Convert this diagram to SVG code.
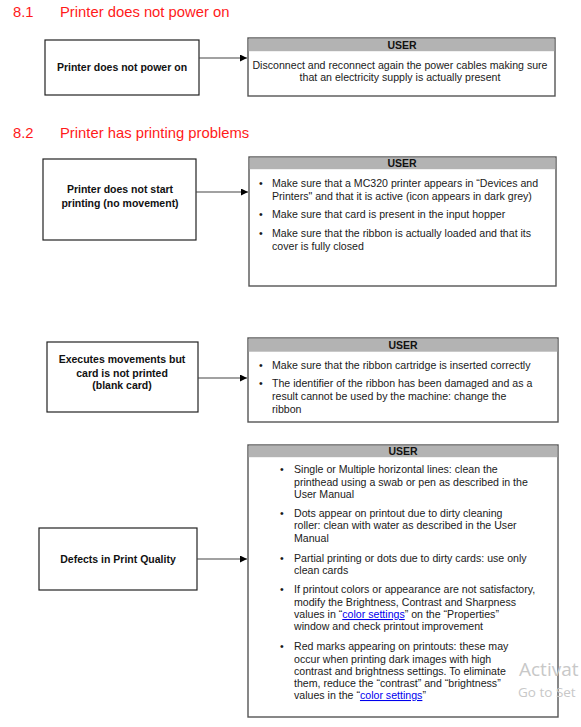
<svg xmlns="http://www.w3.org/2000/svg" width="581" height="727" viewBox="0 0 581 727">
<defs>
<marker id="ah" markerWidth="8" markerHeight="8" refX="7" refY="3.5" orient="auto" markerUnits="userSpaceOnUse">
<path d="M0,0 L7,3.5 L0,7 Z" fill="#000"/>
</marker>
<style>
.h{font-family:"Liberation Sans",Arial,sans-serif;font-size:14.8px;fill:#ff1a1a}
.n{fill:#fff;stroke:#222;stroke-width:1.2}
.u{fill:#fff;stroke:#555;stroke-width:1.4}
.band{fill:#b3b3b3}
.b{font-family:"Liberation Sans",Arial,sans-serif;font-size:10.5px;font-weight:bold;fill:#111;text-anchor:middle}
.t{font-family:"Liberation Sans",Arial,sans-serif;font-size:10.6px;fill:#1a1a1a}
.c{text-anchor:middle}
.lk{fill:#0000ee;text-decoration:underline}
.con{stroke:#444;stroke-width:1.2;fill:none}
.wm{font-family:"Segoe UI","Open Sans",sans-serif;fill:#c8c8c8}
</style>
</defs>
<rect width="581" height="727" fill="#fff"/>

<text class="h" x="13" y="17">8.1</text>
<text class="h" x="60" y="17">Printer does not power on</text>
<text class="h" x="13" y="138">8.2</text>
<text class="h" x="60" y="138">Printer has printing problems</text>

<g id="n1">
<rect class="n" x="45" y="40" width="154" height="55"/>
<text class="b" x="122" y="71">Printer does not power on</text>
</g>
<g id="u1">
<rect class="u" x="248" y="38" width="307" height="58"/>
<rect class="band" x="248.7" y="38.7" width="305.6" height="12.5"/>
<text class="b" x="402" y="49">USER</text>
<text class="t c" x="400" y="69">Disconnect and reconnect again the power cables making sure</text>
<text class="t c" x="400" y="81">that an electricity supply is actually present</text>
</g>

<g id="n2">
<rect class="n" x="43" y="159" width="153" height="81"/>
<text class="b" x="120" y="193">Printer does not start</text>
<text class="b" x="120" y="207">printing (no movement)</text>
</g>
<g id="u2">
<rect class="u" x="249" y="157" width="307" height="129"/>
<rect class="band" x="249.7" y="157.7" width="305.6" height="11.5"/>
<text class="b" x="402" y="167">USER</text>
<text class="t" x="259" y="187">•</text>
<text class="t" x="272" y="187">Make sure that a MC320 printer appears in “Devices and</text>
<text class="t" x="272" y="200">Printers" and that it is active (icon appears in dark grey)</text>
<text class="t" x="259" y="218">•</text>
<text class="t" x="272" y="218">Make sure that card is present in the input  hopper</text>
<text class="t" x="259" y="237">•</text>
<text class="t" x="272" y="237">Make sure that the ribbon is actually loaded and that its</text>
<text class="t" x="272" y="250">cover is fully closed</text>
</g>

<g id="n3">
<rect class="n" x="47" y="342" width="151" height="70"/>
<text class="b" x="122" y="363">Executes movements but</text>
<text class="b" x="122" y="377">card is not printed</text>
<text class="b" x="122" y="389">(blank card)</text>
</g>
<g id="u3">
<rect class="u" x="248" y="338" width="310" height="84"/>
<rect class="band" x="248.7" y="338.7" width="308.6" height="13"/>
<text class="b" x="403" y="349">USER</text>
<text class="t" x="259" y="369">•</text>
<text class="t" x="272" y="369">Make sure that the ribbon cartridge is inserted correctly</text>
<text class="t" x="259" y="387">•</text>
<text class="t" x="272" y="387">The identifier of the ribbon has been damaged and as a</text>
<text class="t" x="272" y="400">result cannot be used by the machine: change the</text>
<text class="t" x="272" y="413">ribbon</text>
</g>

<g id="n4">
<rect class="n" x="39" y="528" width="158" height="62"/>
<text class="b" x="118" y="563">Defects in Print Quality</text>
</g>
<g id="u4">
<rect class="u" x="248" y="445" width="310" height="272"/>
<rect class="band" x="248.7" y="445.7" width="308.6" height="11.5"/>
<text class="b" x="403" y="455">USER</text>
<text class="t" x="280" y="473">•</text>
<text class="t" x="294" y="473">Single or Multiple horizontal lines: clean the</text>
<text class="t" x="294" y="486">printhead using a swab or pen as described in the</text>
<text class="t" x="294" y="498">User Manual</text>
<text class="t" x="280" y="517">•</text>
<text class="t" x="294" y="517">Dots appear on printout due to dirty cleaning</text>
<text class="t" x="294" y="529">roller: clean with water as described in the User</text>
<text class="t" x="294" y="542">Manual</text>
<text class="t" x="280" y="562">•</text>
<text class="t" x="294" y="562">Partial printing or dots due to dirty cards: use only</text>
<text class="t" x="294" y="574">clean cards</text>
<text class="t" x="280" y="593">•</text>
<text class="t" x="294" y="593">If printout colors or appearance are not satisfactory,</text>
<text class="t" x="294" y="606">modify the Brightness, Contrast and Sharpness</text>
<text class="t" x="294" y="618">values in “<tspan class="lk">color settings</tspan>” on the “Properties”</text>
<text class="t" x="294" y="630">window and check printout  improvement</text>
<text class="t" x="280" y="650">•</text>
<text class="t" x="294" y="650">Red marks appearing on printouts: these may</text>
<text class="t" x="294" y="663">occur when printing dark images with high</text>
<text class="t" x="294" y="675">contrast and brightness settings. To eliminate</text>
<text class="t" x="294" y="687">them, reduce the “contrast” and “brightness”</text>
<text class="t" x="294" y="699">values in the “<tspan class="lk">color settings</tspan>”</text>
</g>

<g id="connectors">
<path class="con" d="M199,58 H247" marker-end="url(#ah)"/>
<path class="con" d="M196,192 H248" marker-end="url(#ah)"/>
<path class="con" d="M198,378 H247" marker-end="url(#ah)"/>
<path class="con" d="M197,559 H247" marker-end="url(#ah)"/>
</g>

<text class="wm" x="519" y="676" font-size="19">Activat</text>
<text class="wm" x="518" y="697" font-size="13.5">Go to Set</text>
</svg>
